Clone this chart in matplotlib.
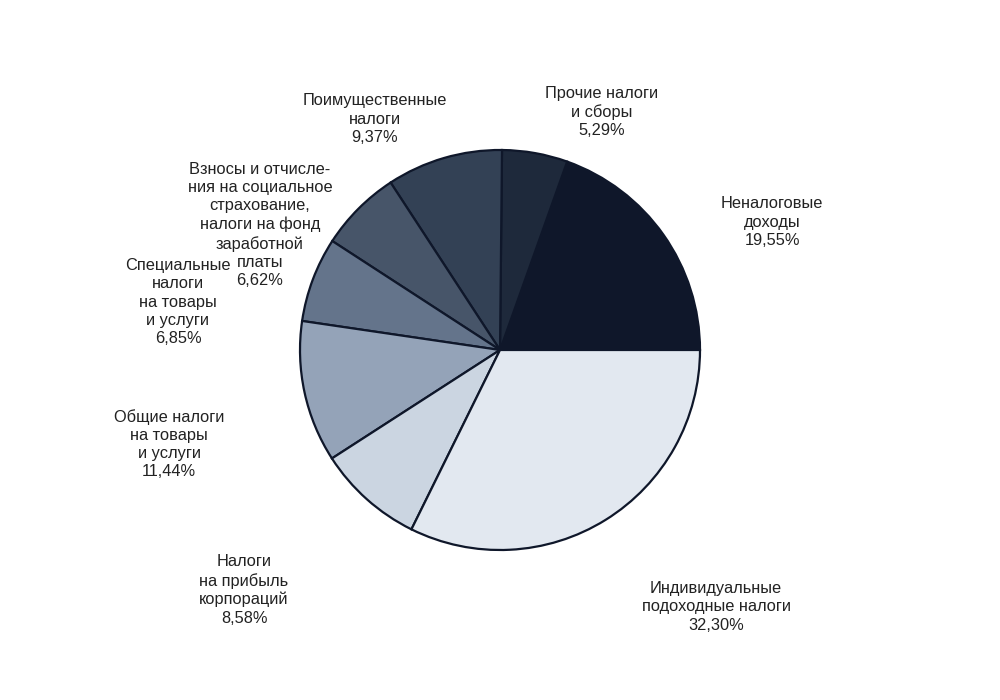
import matplotlib

matplotlib.use("Agg")
import matplotlib.pyplot as plt

# slices, counter-clockwise from 3 o'clock
SHARES = [19.55, 5.29, 9.37, 6.62, 6.85, 11.44, 8.58, 32.30]
LABELS = [
    "Неналоговые\nдоходы",
    "Прочие налоги\nи сборы",
    "Поимущественные\nналоги",
    "Взносы и отчисле-\nния на социальное\nстрахование,\nналоги на фонд\nзаработной\nплаты",
    "Специальные\nналоги\nна товары\nи услуги",
    "Общие налоги\nна товары\nи услуги",
    "Налоги\nна прибыль\nкорпораций",
    "Индивидуальные\nподоходные налоги",
]
COLORS = ["#0f172a", "#1e293b", "#334155", "#475569",
          "#64748b", "#94a3b8", "#cbd5e1", "#e2e8f0"]
# label centres in pixel coords (x, y from top)
LABEL_POS = [(772, 222), (602, 112), (375, 119), (260, 225),
             (178, 302), (169, 444), (244, 590), (716, 607)]

plt.rcParams["font.family"] = ["Liberation Sans", "DejaVu Sans"]

fig = plt.figure(figsize=(10, 7), dpi=100)
ax = fig.add_axes([0, 0, 1, 1])

ax.pie(SHARES, colors=COLORS, startangle=0, counterclock=True,
       center=(500, 350), radius=200, frame=True,
       wedgeprops=dict(edgecolor="#0f172a", linewidth=1.6))
ax.set_xlim(0, 1000)
ax.set_ylim(0, 700)
ax.set_aspect("equal")
ax.axis("off")

for lab, val, (px, py) in zip(LABELS, SHARES, LABEL_POS):
    txt = lab + "\n" + f"{val:.2f}%".replace(".", ",")
    ax.text(px, 700 - py, txt, ha="center", va="center", fontsize=11.8,
            color="#222222", linespacing=1.27)

fig.savefig("out.png", dpi=100)
